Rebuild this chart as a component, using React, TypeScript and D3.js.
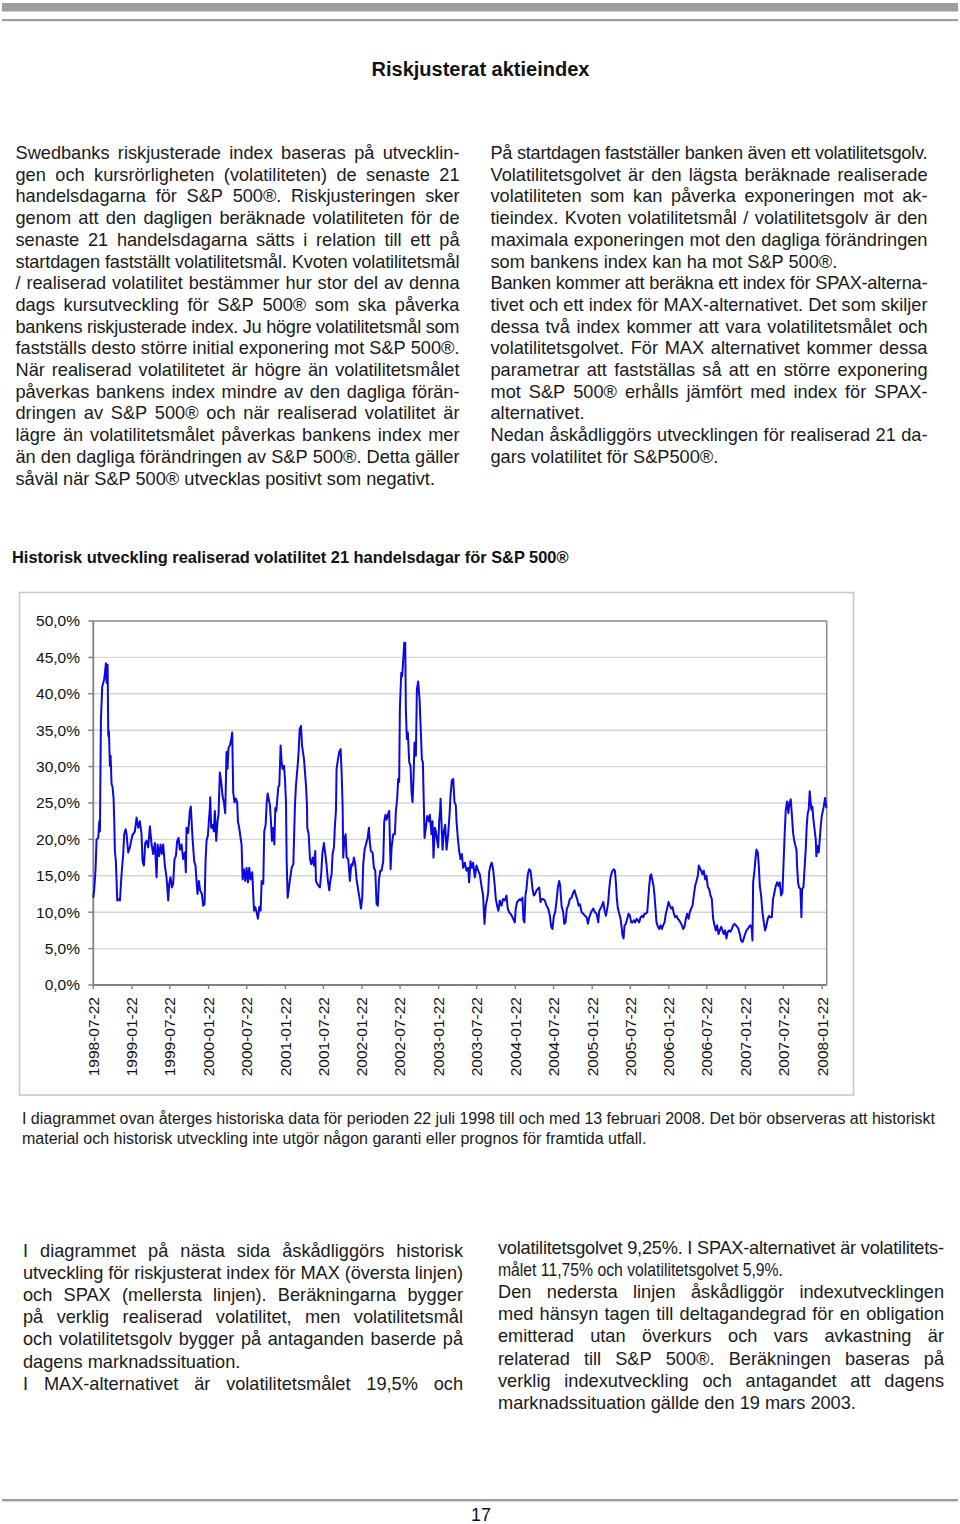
import React from "react";
import * as d3 from "d3";

const W = 960;
const H = 1524;
const FONT = '"Liberation Sans", Arial, Helvetica, sans-serif';

// ---------- chart data ----------
const chartTitle = "Historisk utveckling realiserad volatilitet 21 handelsdagar för S&P 500®";
const xStart = "1998-07-22";
const xEnd = "2008-02-13";
const xTickLabels = [
  "1998-07-22", "1999-01-22", "1999-07-22", "2000-01-22", "2000-07-22", "2001-01-22",
  "2001-07-22", "2002-01-22", "2002-07-22", "2003-01-22", "2003-07-22", "2004-01-22",
  "2004-07-22", "2005-01-22", "2005-07-22", "2006-01-22", "2006-07-22", "2007-01-22",
  "2007-07-22", "2008-01-22",
];
const yTicks = [0, 5, 10, 15, 20, 25, 30, 35, 40, 45, 50];

// dates as decimal years, volatility in %
const volYears = [
  1998.553, 1998.566, 1998.583, 1998.596, 1998.618, 1998.631, 1998.640, 1998.653, 1998.670, 1998.696,
  1998.718, 1998.727, 1998.740, 1998.749, 1998.757, 1998.770, 1998.779, 1998.792, 1998.805, 1998.818,
  1998.827, 1998.835, 1998.848, 1998.866, 1998.879, 1998.901, 1998.922, 1998.944, 1998.957, 1998.975,
  1998.988, 1999.009, 1999.031, 1999.061, 1999.096, 1999.118, 1999.140, 1999.161, 1999.183, 1999.196,
  1999.214, 1999.231, 1999.248, 1999.270, 1999.292, 1999.314, 1999.335, 1999.357, 1999.379, 1999.392,
  1999.413, 1999.431, 1999.448, 1999.466, 1999.487, 1999.509, 1999.531, 1999.544, 1999.561, 1999.579,
  1999.596, 1999.613, 1999.631, 1999.648, 1999.666, 1999.683, 1999.705, 1999.726, 1999.748, 1999.761,
  1999.770, 1999.792, 1999.813, 1999.826, 1999.848, 1999.870, 1999.887, 1999.900, 1999.913, 1999.931,
  1999.948, 1999.970, 1999.987, 2000.005, 2000.018, 2000.031, 2000.048, 2000.061, 2000.074, 2000.079,
  2000.091, 2000.109, 2000.126, 2000.139, 2000.157, 2000.174, 2000.187, 2000.204, 2000.222, 2000.239,
  2000.257, 2000.274, 2000.291, 2000.304, 2000.317, 2000.335, 2000.352, 2000.365, 2000.378, 2000.395,
  2000.413, 2000.430, 2000.439, 2000.456, 2000.474, 2000.487, 2000.500, 2000.517, 2000.535, 2000.552,
  2000.570, 2000.587, 2000.604, 2000.626, 2000.648, 2000.665, 2000.682, 2000.700, 2000.717, 2000.735,
  2000.748, 2000.769, 2000.782, 2000.800, 2000.813, 2000.826, 2000.839, 2000.856, 2000.869, 2000.882,
  2000.900, 2000.913, 2000.926, 2000.939, 2000.952, 2000.965, 2000.978, 2000.995, 2001.008, 2001.021,
  2001.039, 2001.052, 2001.065, 2001.074, 2001.087, 2001.104, 2001.121, 2001.139, 2001.161, 2001.182,
  2001.195, 2001.217, 2001.230, 2001.243, 2001.261, 2001.274, 2001.287, 2001.300, 2001.313, 2001.326,
  2001.339, 2001.343, 2001.361, 2001.378, 2001.395, 2001.413, 2001.430, 2001.447, 2001.456, 2001.473,
  2001.491, 2001.508, 2001.526, 2001.539, 2001.560, 2001.578, 2001.595, 2001.612, 2001.630, 2001.643,
  2001.660, 2001.673, 2001.691, 2001.704, 2001.717, 2001.725, 2001.743, 2001.760, 2001.778, 2001.791,
  2001.804, 2001.812, 2001.825, 2001.843, 2001.856, 2001.877, 2001.899, 2001.917, 2001.934, 2001.951,
  2001.969, 2001.986, 2002.008, 2002.030, 2002.043, 2002.060, 2002.073, 2002.091, 2002.108, 2002.130,
  2002.147, 2002.160, 2002.173, 2002.195, 2002.212, 2002.230, 2002.247, 2002.264, 2002.277, 2002.295,
  2002.312, 2002.334, 2002.347, 2002.364, 2002.377, 2002.395, 2002.412, 2002.430, 2002.443, 2002.464,
  2002.486, 2002.499, 2002.516, 2002.529, 2002.542, 2002.551, 2002.569, 2002.582, 2002.595, 2002.608,
  2002.621, 2002.629, 2002.642, 2002.655, 2002.673, 2002.690, 2002.703, 2002.716, 2002.729, 2002.742,
  2002.760, 2002.773, 2002.790, 2002.808, 2002.825, 2002.838, 2002.851, 2002.864, 2002.873, 2002.890,
  2002.908, 2002.929, 2002.942, 2002.964, 2002.977, 2002.990, 2003.008, 2003.021, 2003.038, 2003.051,
  2003.064, 2003.077, 2003.082, 2003.108, 2003.125, 2003.142, 2003.160, 2003.181, 2003.199, 2003.212,
  2003.229, 2003.247, 2003.264, 2003.281, 2003.290, 2003.307, 2003.325, 2003.342, 2003.360, 2003.377,
  2003.399, 2003.420, 2003.442, 2003.455, 2003.472, 2003.490, 2003.507, 2003.529, 2003.551, 2003.573,
  2003.594, 2003.616, 2003.637, 2003.655, 2003.672, 2003.690, 2003.703, 2003.716, 2003.733, 2003.750,
  2003.768, 2003.785, 2003.803, 2003.820, 2003.837, 2003.855, 2003.876, 2003.898, 2003.920, 2003.942,
  2003.959, 2003.976, 2003.994, 2004.011, 2004.029, 2004.050, 2004.063, 2004.081, 2004.098, 2004.116,
  2004.133, 2004.150, 2004.163, 2004.176, 2004.189, 2004.202, 2004.220, 2004.237, 2004.255, 2004.268,
  2004.281, 2004.298, 2004.315, 2004.333, 2004.350, 2004.368, 2004.385, 2004.402, 2004.420, 2004.441,
  2004.463, 2004.485, 2004.507, 2004.524, 2004.541, 2004.559, 2004.576, 2004.594, 2004.611, 2004.628,
  2004.641, 2004.659, 2004.680, 2004.694, 2004.711, 2004.728, 2004.746, 2004.767, 2004.789, 2004.811,
  2004.828, 2004.846, 2004.863, 2004.880, 2004.898, 2004.920, 2004.941, 2004.963, 2004.985, 2005.002,
  2005.020, 2005.037, 2005.054, 2005.072, 2005.093, 2005.115, 2005.137, 2005.150, 2005.167, 2005.185,
  2005.202, 2005.220, 2005.237, 2005.254, 2005.267, 2005.280, 2005.293, 2005.306, 2005.324, 2005.341,
  2005.354, 2005.367, 2005.380, 2005.393, 2005.411, 2005.428, 2005.441, 2005.454, 2005.467, 2005.480,
  2005.497, 2005.515, 2005.532, 2005.550, 2005.567, 2005.584, 2005.602, 2005.619, 2005.637, 2005.654,
  2005.671, 2005.689, 2005.706, 2005.724, 2005.741, 2005.758, 2005.776, 2005.789, 2005.802, 2005.815,
  2005.828, 2005.841, 2005.858, 2005.871, 2005.884, 2005.897, 2005.915, 2005.932, 2005.950, 2005.967,
  2005.984, 2006.002, 2006.019, 2006.036, 2006.054, 2006.071, 2006.089, 2006.106, 2006.123, 2006.141,
  2006.158, 2006.175, 2006.193, 2006.210, 2006.228, 2006.245, 2006.262, 2006.280, 2006.297, 2006.315,
  2006.332, 2006.349, 2006.367, 2006.384, 2006.401, 2006.419, 2006.436, 2006.449, 2006.462, 2006.480,
  2006.497, 2006.514, 2006.532, 2006.549, 2006.567, 2006.584, 2006.601, 2006.619, 2006.636, 2006.654,
  2006.671, 2006.688, 2006.706, 2006.723, 2006.741, 2006.758, 2006.775, 2006.793, 2006.810, 2006.827,
  2006.845, 2006.862, 2006.880, 2006.897, 2006.914, 2006.932, 2006.949, 2006.966, 2006.984, 2007.001,
  2007.019, 2007.036, 2007.053, 2007.071, 2007.088, 2007.105, 2007.123, 2007.140, 2007.149, 2007.158,
  2007.175, 2007.188, 2007.201, 2007.219, 2007.232, 2007.245, 2007.262, 2007.279, 2007.297, 2007.314,
  2007.332, 2007.349, 2007.366, 2007.384, 2007.401, 2007.418, 2007.436, 2007.453, 2007.471, 2007.488,
  2007.505, 2007.523, 2007.540, 2007.557, 2007.570, 2007.584, 2007.601, 2007.618, 2007.631, 2007.649,
  2007.662, 2007.679, 2007.692, 2007.705, 2007.723, 2007.731, 2007.744, 2007.757, 2007.775, 2007.788,
  2007.797, 2007.814, 2007.831, 2007.844, 2007.857, 2007.870, 2007.883, 2007.896, 2007.905, 2007.918,
  2007.931, 2007.944, 2007.957, 2007.975, 2007.983, 2007.996, 2008.014, 2008.027, 2008.040, 2008.053,
  2008.061, 2008.079, 2008.096, 2008.114,
];
const volPct = [
  12.0, 13.2, 15.9, 20.0, 20.2, 22.5, 21.1, 36.5, 41.0, 42.0,
  44.2, 41.5, 44.0, 34.2, 34.9, 30.1, 31.5, 27.6, 27.2, 25.6,
  22.5, 18.4, 17.0, 11.6, 11.8, 11.6, 15.2, 18.0, 20.7, 21.4,
  20.7, 18.2, 18.9, 20.5, 21.1, 23.0, 21.6, 22.5, 20.7, 17.0,
  16.4, 19.5, 19.8, 18.9, 21.8, 19.3, 18.0, 19.5, 14.8, 19.3,
  17.7, 19.3, 18.0, 19.3, 16.4, 14.8, 11.6, 13.9, 14.8, 13.4,
  13.9, 17.3, 17.7, 19.8, 20.2, 18.6, 19.3, 17.3, 18.2, 15.5,
  21.6, 20.9, 23.9, 24.5, 20.2, 17.0, 16.4, 14.3, 12.5, 14.3,
  13.0, 12.5, 10.9, 11.1, 17.0, 19.8, 20.5, 22.5, 24.3, 25.8,
  21.6, 22.0, 21.1, 23.9, 19.8, 22.5, 23.4, 29.2, 27.9, 26.0,
  25.1, 23.6, 32.0, 29.7, 32.6, 32.9, 33.8, 34.7, 26.5, 25.1,
  25.6, 25.1, 22.5, 21.6, 20.2, 19.3, 14.5, 15.9, 14.3, 16.1,
  14.1, 16.1, 14.5, 15.5, 10.2, 10.7, 10.0, 9.1, 10.7, 10.2,
  14.3, 13.9, 21.1, 22.0, 24.9, 26.3, 25.6, 24.7, 22.5, 19.8,
  21.6, 19.3, 24.3, 23.9, 25.6, 27.2, 27.4, 32.9, 30.6, 29.7,
  30.1, 28.3, 25.1, 17.0, 12.0, 13.4, 14.8, 16.1, 16.6, 24.7,
  27.4, 30.1, 32.0, 35.1, 35.6, 32.9, 32.0, 31.0, 29.2, 27.4,
  24.7, 21.6, 20.7, 17.3, 16.6, 17.5, 16.4, 18.4, 14.3, 13.9,
  13.6, 13.4, 15.5, 18.0, 19.5, 18.0, 16.4, 14.3, 13.0, 14.3,
  15.2, 18.0, 18.9, 22.0, 23.9, 29.7, 31.0, 32.0, 32.4, 29.2,
  24.7, 17.5, 19.8, 20.7, 17.5, 17.3, 14.3, 16.6, 16.4, 17.5,
  16.6, 14.5, 13.0, 11.6, 10.5, 12.0, 16.6, 18.6, 19.3, 20.2,
  21.6, 19.5, 18.4, 18.2, 16.1, 15.7, 11.1, 10.9, 14.3, 15.7,
  15.7, 17.0, 22.5, 23.4, 22.7, 23.4, 23.9, 15.9, 18.9, 20.7,
  20.7, 23.9, 25.6, 28.3, 27.9, 37.9, 42.9, 42.4, 44.7, 47.0,
  47.0, 37.9, 33.8, 34.7, 30.6, 30.1, 26.5, 25.1, 28.3, 33.3,
  31.5, 40.6, 41.7, 39.2, 34.7, 31.0, 30.6, 24.7, 20.2, 21.6,
  23.2, 22.5, 23.4, 20.7, 22.5, 17.5, 21.6, 21.1, 19.8, 18.9,
  22.5, 24.1, 25.6, 18.6, 21.1, 22.0, 18.6, 20.7, 23.4, 26.0,
  28.1, 28.3, 25.1, 24.7, 22.5, 20.2, 18.4, 17.3, 18.0, 16.1,
  16.8, 15.7, 16.1, 14.1, 17.0, 16.1, 16.8, 14.8, 16.4, 15.7,
  15.2, 13.6, 12.3, 8.4, 10.9, 11.8, 12.7, 15.5, 16.4, 16.8,
  15.9, 14.1, 11.8, 10.9, 10.2, 11.6, 10.9, 11.8, 11.6, 12.3,
  10.5, 10.0, 9.8, 9.5, 9.1, 8.6, 10.5, 11.4, 11.6, 11.8,
  11.6, 12.0, 8.9, 8.6, 12.3, 13.2, 15.2, 15.9, 15.7, 14.5,
  13.2, 12.3, 12.5, 13.0, 13.2, 13.4, 11.4, 11.8, 11.8, 11.6,
  10.9, 10.5, 9.5, 8.0, 7.7, 9.5, 10.0, 11.6, 13.4, 14.3,
  13.6, 10.9, 10.0, 8.4, 8.6, 10.5, 10.9, 11.8, 12.0, 12.7,
  13.0, 12.3, 11.8, 10.9, 11.1, 10.0, 9.8, 9.5, 9.3, 8.4,
  9.3, 9.8, 10.2, 10.5, 10.0, 9.8, 8.6, 10.2, 10.5, 10.9,
  11.4, 10.2, 9.5, 10.5, 11.4, 13.2, 14.5, 15.2, 15.7, 15.9,
  15.7, 14.1, 11.8, 10.5, 9.8, 9.1, 8.0, 6.8, 6.4, 8.2,
  8.4, 9.1, 9.8, 9.5, 8.6, 8.6, 8.9, 8.6, 9.1, 8.9,
  8.6, 9.3, 9.5, 9.3, 9.8, 9.8, 10.0, 11.8, 13.6, 15.0,
  15.2, 14.5, 13.6, 12.3, 10.5, 8.6, 8.0, 7.7, 8.2, 7.7,
  8.2, 8.6, 9.8, 10.5, 11.4, 10.9, 10.5, 10.7, 9.8, 9.3,
  9.5, 9.1, 8.9, 8.6, 8.2, 7.7, 8.0, 9.1, 9.8, 9.1,
  10.0, 10.5, 10.9, 12.3, 13.6, 14.3, 15.0, 16.4, 16.1, 15.7,
  15.2, 15.7, 14.5, 15.0, 13.4, 13.2, 12.3, 11.8, 9.1, 8.2,
  7.5, 8.2, 7.0, 7.5, 8.0, 7.5, 7.0, 7.5, 6.4, 7.3,
  7.5, 7.3, 7.7, 8.2, 8.4, 8.2, 8.0, 7.7, 7.0, 6.1,
  5.9, 6.4, 7.0, 7.5, 7.7, 8.0, 8.2, 7.7, 6.1, 14.1,
  15.7, 17.3, 18.6, 18.2, 16.4, 13.6, 12.3, 10.0, 8.6, 7.5,
  8.2, 9.1, 9.5, 9.3, 9.3, 11.8, 12.7, 13.6, 14.1, 13.6,
  14.1, 12.3, 12.7, 17.3, 20.9, 24.1, 25.2, 23.6, 25.0, 25.5,
  23.6, 20.9, 20.0, 19.3, 18.6, 16.4, 14.1, 13.4, 13.2, 9.3,
  13.2, 13.4, 16.4, 18.6, 21.8, 23.6, 24.1, 26.6, 25.5, 24.1,
  24.5, 22.7, 21.6, 20.0, 17.7, 19.1, 18.2, 20.0, 21.8, 23.2,
  23.6, 24.5, 25.7, 24.3,
];

// ---------- page texts ----------
const pageTitle = "Riskjusterat aktieindex";
type Ln = { t: string; j: boolean; w?: number };
const introLeft: Ln[] = [
  { t: "Swedbanks riskjusterade index baseras på utvecklin-", j: true },
  { t: "gen och kursrörligheten (volatiliteten) de senaste 21", j: true },
  { t: "handelsdagarna för S&P 500®. Riskjusteringen sker", j: true },
  { t: "genom att den dagligen beräknade volatiliteten för de", j: true },
  { t: "senaste 21 handelsdagarna sätts i relation till ett på", j: true },
  { t: "startdagen fastställt volatilitetsmål. Kvoten volatilitetsmål", j: true },
  { t: "/ realiserad volatilitet bestämmer hur stor del av denna", j: true },
  { t: "dags kursutveckling för S&P 500® som ska påverka", j: true },
  { t: "bankens riskjusterade index. Ju högre volatilitetsmål som", j: true },
  { t: "fastställs desto större initial exponering mot S&P 500®.", j: true },
  { t: "När realiserad volatilitetet är högre än volatilitetsmålet", j: true },
  { t: "påverkas bankens index mindre av den dagliga förän-", j: true },
  { t: "dringen av S&P 500® och när realiserad volatilitet är", j: true },
  { t: "lägre än volatilitetsmålet påverkas bankens index mer", j: true },
  { t: "än den dagliga förändringen av S&P 500®. Detta gäller", j: true },
  { t: "såväl när S&P 500® utvecklas positivt som negativt.", j: false },
];
const introRight: Ln[] = [
  { t: "På startdagen fastställer banken även ett volatilitetsgolv.", j: true },
  { t: "Volatilitetsgolvet är den lägsta beräknade realiserade", j: true },
  { t: "volatiliteten som kan påverka exponeringen mot ak-", j: true },
  { t: "tieindex. Kvoten volatilitetsmål / volatilitetsgolv är den", j: true },
  { t: "maximala exponeringen mot den dagliga förändringen", j: true },
  { t: "som bankens index kan ha mot S&P 500®.", j: false },
  { t: "Banken kommer att beräkna ett index för SPAX-alterna-", j: true },
  { t: "tivet och ett index för MAX-alternativet. Det som skiljer", j: true },
  { t: "dessa två index kommer att vara volatilitetsmålet och", j: true },
  { t: "volatilitetsgolvet. För MAX alternativet kommer dessa", j: true },
  { t: "parametrar att fastställas så att en större exponering", j: true },
  { t: "mot S&P 500® erhålls jämfört med index för SPAX-", j: true },
  { t: "alternativet.", j: false },
  { t: "Nedan åskådliggörs utvecklingen för realiserad 21 da-", j: true },
  { t: "gars volatilitet för S&P500®.", j: false },
];
const caption: Ln[] = [
  { t: "I diagrammet ovan återges historiska data för perioden 22 juli 1998 till och med 13 februari 2008. Det bör observeras att historiskt", j: true },
  { t: "material och historisk utveckling inte utgör någon garanti eller prognos för framtida utfall.", j: false },
];
const outroLeft: Ln[] = [
  { t: "I diagrammet på nästa sida åskådliggörs historisk", j: true },
  { t: "utveckling för riskjusterat index för MAX (översta linjen)", j: true },
  { t: "och SPAX (mellersta linjen). Beräkningarna bygger", j: true },
  { t: "på verklig realiserad volatilitet, men volatilitetsmål", j: true },
  { t: "och volatilitetsgolv bygger på antaganden baserde på", j: true },
  { t: "dagens marknadssituation.", j: false },
  { t: "I MAX-alternativet är volatilitetsmålet 19,5% och", j: true },
];
const outroRight: Ln[] = [
  { t: "volatilitetsgolvet 9,25%. I SPAX-alternativet är volatilitets-", j: true },
  { t: "målet 11,75% och volatilitetsgolvet 5,9%.", j: false, w: 285 },
  { t: "Den nedersta linjen åskådliggör indexutvecklingen", j: true },
  { t: "med hänsyn tagen till deltagandegrad för en obligation", j: true },
  { t: "emitterad utan överkurs och vars avkastning är", j: true },
  { t: "relaterad till S&P 500®. Beräkningen baseras på", j: true },
  { t: "verklig indexutveckling och antagandet att dagens", j: true },
  { t: "marknadssituation gällde den 19 mars 2003.", j: false },
];
const pageNumber = "17";

// ---------- helpers ----------
const measureCtx: CanvasRenderingContext2D | null =
  typeof document !== "undefined" ? document.createElement("canvas").getContext("2d") : null;
function textW(s: string, font: string) {
  if (!measureCtx) return s.length * 8;
  measureCtx.font = font;
  return measureCtx.measureText(s).width;
}

function Para(props: {
  lines: Ln[]; x0: number; x1: number; y0: number; lh: number; size: number; weight?: string;
}) {
  const { lines, x0, x1, y0, lh, size } = props;
  const weight = props.weight || "normal";
  const font = `${weight} ${size}px ${FONT}`;
  const spaceW = textW(" ", font);
  return (
    <g fontSize={size} fontWeight={weight} fill="#1a1a1a">
      {lines.map((ln, i) => {
        const y = y0 + i * lh;
        if (ln.w) {
          return (
            <text key={i} x={x0} y={y} textLength={ln.w} lengthAdjust="spacingAndGlyphs">{ln.t}</text>
          );
        }
        if (!ln.j) return <text key={i} x={x0} y={y}>{ln.t}</text>;
        const words = ln.t.split(" ");
        const ws = words.map((w) => textW(w, font));
        const gap = (x1 - x0 - d3.sum(ws)) / Math.max(1, words.length - 1);
        if (gap < spaceW * 0.9) {
          return (
            <text key={i} x={x0} y={y} textLength={x1 - x0} lengthAdjust="spacing">{ln.t}</text>
          );
        }
        let cx = x0;
        const pos = ws.map((w) => { const p = cx; cx += w + gap; return p; });
        return (
          <text key={i} y={y}>
            {words.map((w, k) => (
              <tspan key={k} x={pos[k]}>{w}</tspan>
            ))}
          </text>
        );
      })}
    </g>
  );
}

function yearToDate(y: number) {
  const yr = Math.floor(y);
  const a = Date.UTC(yr, 0, 1);
  const b = Date.UTC(yr + 1, 0, 1);
  return new Date(a + (y - yr) * (b - a));
}

export default function App() {
  const plot = { left: 93.3, right: 826.7, top: 621, bottom: 985 };
  const x = d3.scaleUtc()
    .domain([new Date(xStart + "T00:00:00Z"), new Date(xEnd + "T00:00:00Z")])
    .range([plot.left, plot.right]);
  const y = d3.scaleLinear().domain([0, 50]).range([plot.bottom, plot.top]);

  const data = volYears.map((yr, i) => ({ d: yearToDate(yr), v: volPct[i] }));
  const line = d3.line<{ d: Date; v: number }>()
    .x((p) => x(p.d))
    .y((p) => y(p.v));

  const ticks = xTickLabels.map((s) => ({ s, d: new Date(s + "T00:00:00Z") }));

  return (
    <svg
      width={W}
      height={H}
      viewBox={`0 0 ${W} ${H}`}
      style={{ position: "absolute", left: 0, top: 0, display: "block", background: "#fff" }}
      fontFamily={FONT}
    >
      <rect x={0} y={0} width={W} height={H} fill="#fff" />
      {/* header bars */}
      <rect x={2} y={3} width={956} height={8.5} fill="#9d9ea2" />
      <rect x={2} y={19} width={956} height={2.2} fill="#9d9ea2" />

      <text x={480.5} y={75.5} textAnchor="middle" fontSize={20} fontWeight="bold" fill="#111">
        {pageTitle}
      </text>

      <Para lines={introLeft} x0={15.5} x1={459.5} y0={159} lh={21.7} size={18.2} />
      <Para lines={introRight} x0={490.5} x1={927.5} y0={159} lh={21.7} size={18.2} />

      <text x={12} y={563} fontSize={16.4} fontWeight="bold" fill="#111">{chartTitle}</text>

      {/* chart frame */}
      <rect x={19.5} y={592.5} width={834} height={502.5} fill="#fff" stroke="#c9c9c9" strokeWidth={1.6} />

      {/* gridlines */}
      {yTicks.filter((t) => t > 0 && t < 50).map((t) => (
        <line key={t} x1={plot.left} x2={plot.right} y1={y(t)} y2={y(t)} stroke="#d6d6d6" strokeWidth={1.4} />
      ))}
      {/* plot border top / right */}
      <line x1={plot.left} x2={plot.right} y1={plot.top} y2={plot.top} stroke="#8a8a8a" strokeWidth={1.5} />
      <line x1={plot.right} x2={plot.right} y1={plot.top} y2={plot.bottom} stroke="#8a8a8a" strokeWidth={1.5} />

      {/* y axis */}
      <line x1={plot.left} x2={plot.left} y1={plot.top} y2={plot.bottom} stroke="#808080" strokeWidth={1.8} />
      {yTicks.map((t) => (
        <g key={t}>
          <line x1={plot.left - 5} x2={plot.left} y1={y(t)} y2={y(t)} stroke="#808080" strokeWidth={1.4} />
          <text x={80} y={y(t)} dy="0.35em" textAnchor="end" fontSize={15.5} fill="#111">
            {t.toFixed(1).replace(".", ",") + "%"}
          </text>
        </g>
      ))}

      {/* x axis */}
      <line x1={plot.left} x2={plot.right} y1={plot.bottom} y2={plot.bottom} stroke="#808080" strokeWidth={1.8} />
      {ticks.map((t) => (
        <g key={t.s}>
          <line x1={x(t.d)} x2={x(t.d)} y1={plot.bottom} y2={plot.bottom + 4} stroke="#808080" strokeWidth={1.4} />
          <text
            transform={`translate(${x(t.d)},997) rotate(-90)`}
            dy="0.35em"
            textAnchor="end"
            fontSize={15.5}
            fill="#111"
          >
            {t.s}
          </text>
        </g>
      ))}

      {/* series */}
      <path d={line(data) || ""} fill="none" stroke="#0a0ae0" strokeWidth={2} strokeLinejoin="round" />

      <Para lines={caption} x0={22} x1={935} y0={1124} lh={20} size={16} />

      <Para lines={outroLeft} x0={23} x1={463} y0={1256.5} lh={22.2} size={18.2} />
      <Para lines={outroRight} x0={498} x1={944} y0={1253.5} lh={22.2} size={18.2} />

      {/* footer */}
      <rect x={2} y={1499} width={956} height={2.4} fill="#9d9ea2" />
      <text x={481} y={1521} textAnchor="middle" fontSize={18} fill="#111">{pageNumber}</text>
    </svg>
  );
}
